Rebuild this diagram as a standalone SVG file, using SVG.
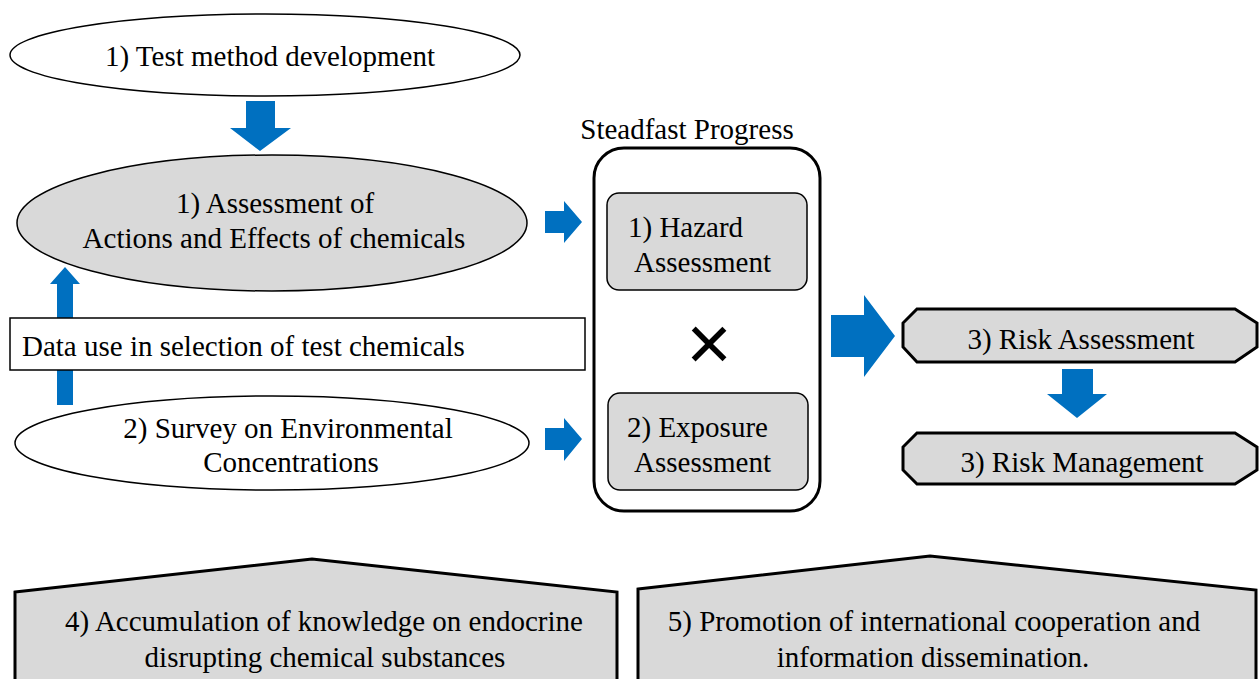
<svg xmlns="http://www.w3.org/2000/svg" width="1259" height="679" viewBox="0 0 1259 679" font-family="'Liberation Serif', 'Times New Roman', 'DejaVu Serif', serif" font-size="29">
  <style>
    .mid { text-anchor: middle; }
    .arrow { fill: #0070C0; stroke: none; }
    .plain { fill: #fff; stroke: #000; stroke-width: 1.5; }
    .grey { fill: #d9d9d9; stroke: #000; stroke-width: 1.5; }
    .heavy { fill: #d9d9d9; stroke: #000; stroke-width: 3; stroke-linejoin: miter; }
  </style>

  <!-- block arrows -->
  <g id="connectors">
    <!-- test method -> assessment of actions -->
    <polygon class="arrow" points="246,101 275,101 275,128 291,128 260,151 230,128 246,128"/>
    <!-- data use -> assessment of actions (upward) -->
    <polygon class="arrow" points="57,405 57,284 50,284 65,267 80,284 73,284 73,405"/>
    <!-- into hazard assessment -->
    <polygon class="arrow" points="545,211 564,211 564,201 582,222 564,243 564,233 545,233"/>
    <!-- into exposure assessment -->
    <polygon class="arrow" points="545,428 564,428 564,418 582,439 564,461 564,450 545,450"/>
    <!-- steadfast progress -> risk assessment -->
    <polygon class="arrow" points="831,315 864,315 864,295 895,336 864,377 864,357 831,357"/>
    <!-- risk assessment -> risk management -->
    <polygon class="arrow" points="1062,369 1093,369 1093,394 1107,394 1077,418 1047,394 1062,394"/>
  </g>

  <g id="test-method">
    <ellipse class="plain" cx="265" cy="55" rx="255" ry="41"/>
    <text class="mid" x="270" y="66">1) Test method development</text>
  </g>

  <g id="actions-effects">
    <ellipse class="grey" cx="272" cy="223" rx="255" ry="68"/>
    <text class="mid" x="275" y="213">1) Assessment of</text>
    <text class="mid" x="274" y="248">Actions and Effects of chemicals</text>
  </g>

  <g id="data-use">
    <rect class="plain" x="10" y="318" width="575" height="52" stroke-width="1.2"/>
    <text x="22" y="356">Data use in selection of test chemicals</text>
  </g>

  <g id="survey">
    <ellipse class="plain" cx="272" cy="443" rx="257" ry="47"/>
    <text class="mid" x="288" y="438">2) Survey on Environmental</text>
    <text class="mid" x="291" y="472">Concentrations</text>
  </g>

  <g id="steadfast-progress">
    <text class="mid" x="687" y="139">Steadfast Progress</text>
    <rect x="594" y="148" width="226" height="363" rx="30" ry="30" fill="#fff" stroke="#000" stroke-width="3"/>
    <text class="mid" x="709" y="370" font-family="'Liberation Sans', Arial, sans-serif" font-size="78">×</text>
  </g>

  <g id="hazard">
    <rect class="grey" x="607" y="193" width="200" height="97" rx="12" ry="12" stroke-width="1"/>
    <text x="628" y="237">1) Hazard</text>
    <text x="634" y="272">Assessment</text>
  </g>

  <g id="exposure">
    <rect class="grey" x="608" y="393" width="200" height="97" rx="12" ry="12" stroke-width="1"/>
    <text x="627" y="437">2) Exposure</text>
    <text x="634" y="472">Assessment</text>
  </g>

  <g id="risk-assessment">
    <polygon class="heavy" points="917,309 1235,309 1257,323 1257,347 1235,362 917,362 903,347 903,323"/>
    <text class="mid" x="1081" y="349">3) Risk Assessment</text>
  </g>

  <g id="risk-management">
    <polygon class="heavy" points="917,433 1235,433 1257,447 1257,470 1235,484 917,484 903,470 903,447"/>
    <text class="mid" x="1082" y="472">3) Risk Management</text>
  </g>

  <g id="knowledge">
    <polygon class="heavy" points="15,592 312,559 617,592 617,690 15,690"/>
    <text class="mid" x="324" y="631">4) Accumulation of knowledge on endocrine</text>
    <text class="mid" x="325" y="667">disrupting chemical substances</text>
  </g>

  <g id="cooperation">
    <polygon class="heavy" points="638,589 930,556 1256,590 1256,690 638,690"/>
    <text class="mid" x="934" y="631">5) Promotion of international cooperation and</text>
    <text class="mid" x="933" y="667">information dissemination.</text>
  </g>
</svg>
